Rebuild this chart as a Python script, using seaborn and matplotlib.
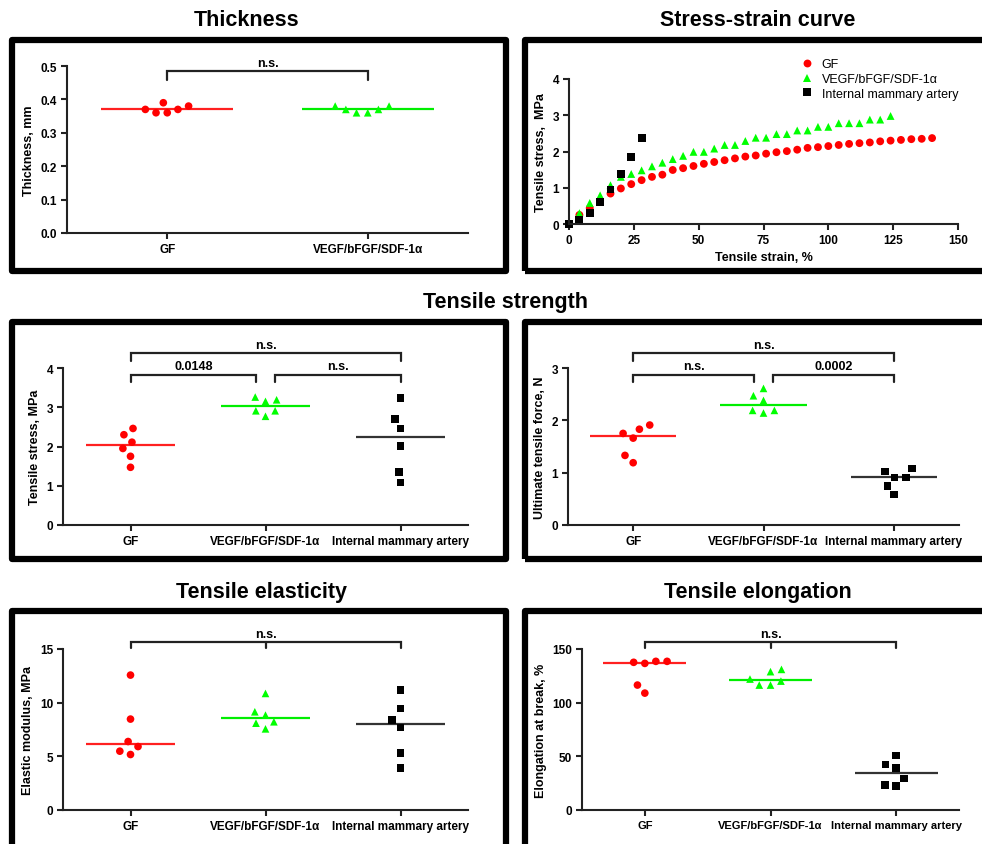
import numpy as np
import pandas as pd
import seaborn as sns
import matplotlib.pyplot as plt
from matplotlib.patches import Rectangle

# groups
groups = ['GF', 'VEGF/bFGF/SDF-1α', 'Internal mammary artery']
colors = {'GF': '#ff0000', 'VEGF/bFGF/SDF-1α': '#00ff00', 'Internal mammary artery': '#000000'}
line_colors = {'GF': '#ff2020', 'VEGF/bFGF/SDF-1α': '#00ee00', 'Internal mammary artery': '#333333'}
markers = {'GF': 'o', 'VEGF/bFGF/SDF-1α': '^', 'Internal mammary artery': 's'}

# thickness, mm
thick_gf = [0.38, 0.37, 0.36, 0.36, 0.37, 0.39]
thick_vegf = [0.38, 0.37, 0.36, 0.36, 0.37, 0.38]

# tensile stress, MPa
stress_gf = [2.46, 2.30, 2.11, 1.95, 1.75, 1.47]
stress_vegf = [3.19, 3.15, 3.26, 2.91, 2.77, 2.91]
stress_ima = [3.23, 2.70, 2.46, 2.01, 1.35, 1.08]

# ultimate tensile force, N
force_gf = [1.75, 1.91, 1.83, 1.66, 1.33, 1.19]
force_vegf = [2.61, 2.47, 2.38, 2.19, 2.14, 2.19]
force_ima = [1.08, 0.91, 0.91, 1.02, 0.75, 0.58]

# elastic modulus, MPa
modulus_gf = [12.57, 8.47, 6.38, 5.91, 5.48, 5.17]
modulus_vegf = [10.86, 9.15, 8.84, 8.22, 8.09, 7.56]
modulus_ima = [11.17, 9.46, 8.37, 7.69, 5.29, 3.89]

# elongation at break, %
elong_gf = [138.5, 137.6, 136.6, 138.5, 116.4, 108.9]
elong_vegf = [131.0, 128.9, 120.1, 122.0, 116.4, 116.4]
elong_ima = [50.7, 42.3, 38.9, 29.3, 22.4, 23.0]

# stress-strain curves
ss_gf_x = [0, 4, 8, 12, 16, 20, 24, 28, 32, 36, 40, 44, 48, 52, 56, 60, 64, 68,
           72, 76, 80, 84, 88, 92, 96, 100, 104, 108, 112, 116, 120, 124, 128, 132, 136, 140]
ss_gf_y = [0.0, 0.25, 0.44, 0.64, 0.84, 0.98, 1.10, 1.21, 1.30, 1.36, 1.49, 1.54, 1.60, 1.66,
           1.71, 1.76, 1.81, 1.86, 1.89, 1.94, 1.98, 2.01, 2.05, 2.10, 2.12, 2.15, 2.18, 2.21,
           2.23, 2.25, 2.28, 2.30, 2.32, 2.34, 2.35, 2.37]
ss_vegf_x = [0, 4, 8, 12, 16, 20, 24, 28, 32, 36, 40, 44, 48, 52, 56, 60, 64, 68,
             72, 76, 80, 84, 88, 92, 96, 100, 104, 108, 112, 116, 120, 124]
ss_vegf_y = [0.0, 0.30, 0.58, 0.79, 1.07, 1.30, 1.38, 1.48, 1.59, 1.69, 1.79, 1.88, 1.99, 1.99,
             2.08, 2.18, 2.18, 2.29, 2.38, 2.38, 2.48, 2.48, 2.58, 2.58, 2.68, 2.68, 2.78, 2.78,
             2.78, 2.88, 2.88, 2.98]
ss_ima_x = [0, 4, 8, 12, 16, 20, 24, 28]
ss_ima_y = [0.0, 0.10, 0.30, 0.60, 0.95, 1.37, 1.85, 2.37]

sns.set_style('ticks')
plt.rcParams['font.family'] = ['Liberation Sans', 'DejaVu Sans']
plt.rcParams['font.weight'] = 'bold'
plt.rcParams['axes.labelweight'] = 'bold'
plt.rcParams['text.color'] = 'black'
plt.rcParams['axes.labelcolor'] = 'black'
plt.rcParams['axes.edgecolor'] = '#222222'
plt.rcParams['xtick.color'] = '#222222'
plt.rcParams['ytick.color'] = '#222222'
plt.rcParams['xtick.labelcolor'] = 'black'
plt.rcParams['ytick.labelcolor'] = 'black'

W, H = 982, 845
fig = plt.figure(figsize=(9.82, 8.45), dpi=100)


def px_axes(x, y_top, w, h):
    return fig.add_axes([x / W, 1 - (y_top + h) / H, w / W, h / H])


def style_axes(ax, ylabel, xlabelsize=8.5):
    sns.despine(ax=ax)
    for sp in ax.spines.values():
        sp.set_linewidth(1.5)
    ax.tick_params(width=1.5, length=4, labelsize=8.5, pad=3)
    ax.tick_params(axis='x', labelsize=xlabelsize)
    ax.set_ylabel(ylabel, fontsize=9)
    ax.set_xlabel('')


def dot_panel(ax, values, names, ymax, ystep, ylabel, xlabelsize=8.5):
    df = pd.DataFrame({'group': np.repeat(names, [len(v) for v in values]),
                       'value': np.concatenate(values)})
    for name in names:
        # transparent edge only widens the swarm spacing
        sns.swarmplot(data=df[df['group'] == name], x='group', y='value', order=names,
                      color=colors[name], marker=markers[name], size=5.5,
                      linewidth=2.2, edgecolor='none', ax=ax)
    med = df.groupby('group', sort=False)['value'].median()
    for i, name in enumerate(names):
        ax.hlines(med[name], i - 0.33, i + 0.33, color=line_colors[name], lw=1.6)
    ax.set_xlim(-0.5, len(names) - 0.5)
    ax.set_ylim(0, ymax)
    ax.set_yticks(np.arange(0, ymax + ystep / 2, ystep))
    style_axes(ax, ylabel, xlabelsize)


def bracket(ax, x1, x2, y, tip, text, ty, mid=None):
    tr = ax.get_xaxis_transform()
    ax.plot([x1, x1, x2, x2], [tip, y, y, tip], color='#222222', lw=1.6,
            transform=tr, clip_on=False, solid_joinstyle='miter')
    if mid is not None:
        ax.plot([mid, mid], [y, tip], color='#222222', lw=1.6, transform=tr, clip_on=False)
    ax.text((x1 + x2) / 2, ty, text, transform=tr, ha='center', va='center', fontsize=9)


# Thickness
ax1 = px_axes(67, 67, 401, 167)
dot_panel(ax1, [thick_gf, thick_vegf], groups[:2], 0.5, 0.1, 'Thickness, mm')
bracket(ax1, 0, 1, 0.97, 0.916, 'n.s.', 1.015)

# Stress-strain curve
ax2 = px_axes(569, 80, 389, 145)
ss = pd.DataFrame({
    'strain': ss_gf_x + ss_vegf_x + ss_ima_x,
    'stress': ss_gf_y + ss_vegf_y + ss_ima_y,
    'group': [groups[0]] * len(ss_gf_x) + [groups[1]] * len(ss_vegf_x) + [groups[2]] * len(ss_ima_x),
})
sns.scatterplot(data=ss, x='strain', y='stress', hue='group', style='group',
                palette=colors, markers=markers, s=32, linewidth=0, clip_on=False, ax=ax2)
ax2.set_xlim(0, 150)
ax2.set_ylim(0, 4)
ax2.set_xticks([0, 25, 50, 75, 100, 125, 150])
ax2.set_yticks([0, 1, 2, 3, 4])
style_axes(ax2, 'Tensile stress,  MPa')
ax2.set_xlabel('Tensile strain, %', fontsize=9)
handles, labels = ax2.get_legend_handles_labels()
ax2.legend(handles, labels, loc='upper left', bbox_to_anchor=(794 / W, 1 - 53 / H),
           bbox_transform=fig.transFigure, frameon=False, borderpad=0, handlelength=1.0,
           handletextpad=0.7, labelspacing=0.22, prop={'weight': 'normal', 'size': 9})

# Tensile strength
ax3 = px_axes(63, 369, 405, 157)
dot_panel(ax3, [stress_gf, stress_vegf, stress_ima], groups, 4, 1, 'Tensile stress, MPa')
bracket(ax3, 0, 2, 1.096, 1.045, 'n.s.', 1.146)
bracket(ax3, 0, 0.93, 0.955, 0.911, '0.0148', 1.013)
bracket(ax3, 1.07, 2, 0.955, 0.911, 'n.s.', 1.013)

ax4 = px_axes(568, 369, 391, 157)
dot_panel(ax4, [force_gf, force_vegf, force_ima], groups, 3, 1, 'Ultimate tensile force, N')
bracket(ax4, 0, 2, 1.096, 1.045, 'n.s.', 1.146)
bracket(ax4, 0, 0.93, 0.955, 0.911, 'n.s.', 1.013)
bracket(ax4, 1.07, 2, 0.955, 0.911, '0.0002', 1.013)

# Tensile elasticity
ax5 = px_axes(63, 650, 405, 161)
dot_panel(ax5, [modulus_gf, modulus_vegf, modulus_ima], groups, 15, 5, 'Elastic modulus, MPa')
bracket(ax5, 0, 2, 1.043, 1.006, 'n.s.', 1.093, mid=1)

# Tensile elongation
ax6 = px_axes(582, 650, 377, 161)
dot_panel(ax6, [elong_gf, elong_vegf, elong_ima], groups, 150, 50, 'Elongation at break, %',
          xlabelsize=8)
bracket(ax6, 0, 2, 1.043, 1.006, 'n.s.', 1.093, mid=1)

# panel frames
for x0, x1 in [(12, 506), (525, 1000)]:
    for y0, y1 in [(41, 272), (323, 560), (612, 870)]:
        fig.add_artist(Rectangle((x0 / W, 1 - y1 / H), (x1 - x0) / W, (y1 - y0) / H,
                                 transform=fig.transFigure, fill=False, lw=4.5,
                                 ec='black', joinstyle='round'))

# titles
for x, y, t in [(247, 21, 'Thickness'), (758, 21, 'Stress-strain curve'),
                (506, 303, 'Tensile strength'), (261, 593, 'Tensile elasticity'),
                (758, 593, 'Tensile elongation')]:
    fig.text(x / W, 1 - y / H, t, ha='center', va='center', fontsize=15.5, weight='bold')

fig.savefig('out.png', dpi=100)
